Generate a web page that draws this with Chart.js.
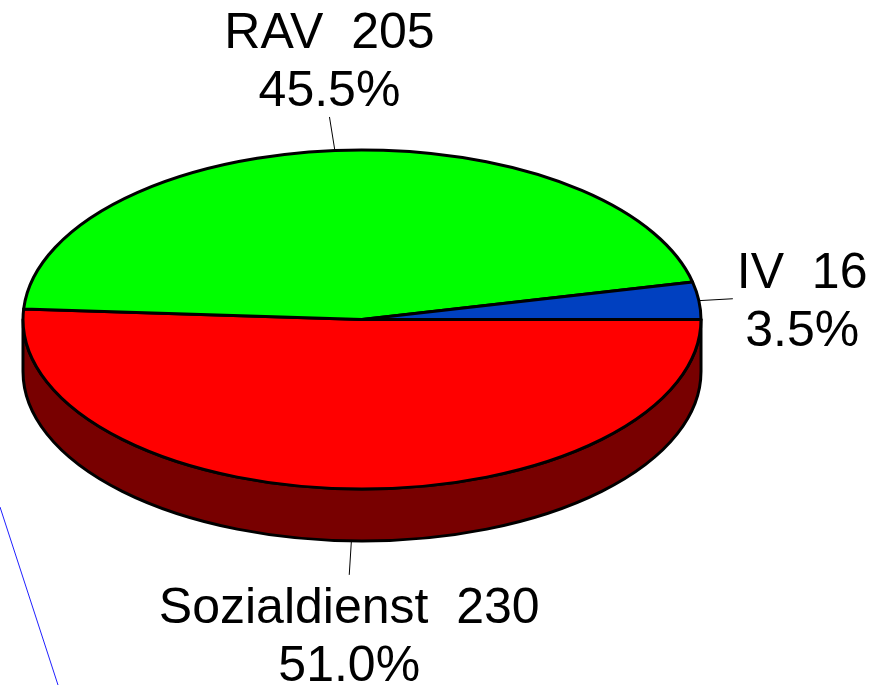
<!DOCTYPE html>
<html>
<head>
<meta charset="utf-8">
<script src="https://cdn.jsdelivr.net/npm/chart.js@4"></script>
<style>
  html, body { margin: 0; padding: 0; background: #fff; }
  canvas { display: block; }
</style>
</head>
<body>
<canvas id="pieChart" width="890" height="685"></canvas>
<script>
// data, clockwise from 3 o'clock
const labels = ['Sozialdienst', 'RAV', 'IV'];
const counts = [230, 205, 16];
const topColors = ['#ff0000', '#00ff00', '#0040c0'];
const sideColors = ['#780000', '#008000', '#002060'];

// 3d look
const TILT = 0.5;      // vertical squash of the pie face
const DEPTH = 52;      // height of the side wall
const LIFT = 23;       // face centre above the chart area centre
const LEADER = 34;
const FONT = '50px "Liberation Sans", Arial, sans-serif';
const LINE_H = 58;

const total = counts.reduce((a, b) => a + b, 0);

function facePoint(arc, ang, down) {
    const rx = arc.outerRadius, ry = arc.outerRadius * TILT;
    return [arc.x + rx * Math.cos(ang), arc.y - LIFT + ry * Math.sin(ang) + (down || 0)];
}

const pie3d = {
    id: 'pie3d',
    beforeDatasetsDraw(chart) {
        const c = chart.ctx;
        const arcs = chart.getDatasetMeta(0).data;
        c.save();
        c.lineWidth = 3;
        c.strokeStyle = '#000';
        c.lineJoin = 'round';
        // side wall (front half only)
        arcs.forEach((arc, i) => {
            const a = Math.max(arc.startAngle, 0);
            const b = Math.min(arc.endAngle, Math.PI);
            if (a >= b) return;
            const rx = arc.outerRadius, ry = rx * TILT;
            const cy = arc.y - LIFT;
            c.beginPath();
            c.ellipse(arc.x, cy, rx, ry, 0, a, b, false);
            c.ellipse(arc.x, cy + DEPTH, rx, ry, 0, b, a, true);
            c.closePath();
            c.fillStyle = sideColors[i];
            c.fill();
            c.stroke();
        });
        // top face
        arcs.forEach((arc, i) => {
            const rx = arc.outerRadius, ry = rx * TILT;
            const cy = arc.y - LIFT;
            c.beginPath();
            c.moveTo(arc.x, cy);
            c.ellipse(arc.x, cy, rx, ry, 0, arc.startAngle, arc.endAngle, false);
            c.closePath();
            c.fillStyle = topColors[i];
            c.fill();
            c.stroke();
        });
        c.restore();
        return false;
    },
    afterDraw(chart) {
        const c = chart.ctx;
        const arcs = chart.getDatasetMeta(0).data;
        c.save();
        c.font = FONT;
        c.fillStyle = '#000';
        arcs.forEach((arc, i) => {
            const m = (arc.startAngle + arc.endAngle) / 2;
            const front = Math.sin(m) > 0;
            const [px, py] = facePoint(arc, m, front ? DEPTH : 0);
            let dx = Math.cos(m) * arc.outerRadius, dy = Math.sin(m) * arc.outerRadius * TILT;
            const len = Math.hypot(dx, dy);
            const lx = px + dx / len * LEADER, ly = py + dy / len * LEADER;
            c.beginPath();
            c.lineWidth = 1;
            c.strokeStyle = '#000';
            c.moveTo(px, py);
            c.lineTo(lx, ly);
            c.stroke();

            const l1 = labels[i] + '  ' + counts[i];
            const l2 = (counts[i] / total * 100).toFixed(1) + '%';
            c.textAlign = 'center';
            c.textBaseline = 'alphabetic';
            if (Math.abs(dx) > Math.abs(dy)) {
                const w = Math.max(c.measureText(l1).width, c.measureText(l2).width);
                const tx = dx > 0 ? lx + 4 + w / 2 : lx - 4 - w / 2;
                c.fillText(l1, tx, ly - 11);
                c.fillText(l2, tx, ly - 11 + LINE_H);
            } else if (dy < 0) {
                c.fillText(l1, lx, ly - 11 - LINE_H);
                c.fillText(l2, lx, ly - 11);
            } else {
                c.fillText(l1, lx, ly + 48);
                c.fillText(l2, lx, ly + 48 + LINE_H);
            }
        });
        // stray blue line in the lower left corner
        c.beginPath();
        c.strokeStyle = '#2020ff';
        c.lineWidth = 1;
        c.moveTo(0, 507);
        c.lineTo(58, 685);
        c.stroke();
        c.restore();
    }
};

const ctx = document.getElementById('pieChart');
const pieChart = new Chart(ctx, {
    type: 'pie',
    data: {
        labels: labels,
        datasets: [{
            data: counts,
            backgroundColor: topColors,
            borderWidth: 0
        }]
    },
    plugins: [pie3d],
    options: {
        responsive: false,
        animation: false,
        events: [],
        rotation: 90,
        layout: {
            padding: { left: 23, right: 189, top: 0, bottom: 0 }
        },
        plugins: {
            legend: { display: false },
            tooltip: { enabled: false }
        }
    }
});
</script>
</body>
</html>
